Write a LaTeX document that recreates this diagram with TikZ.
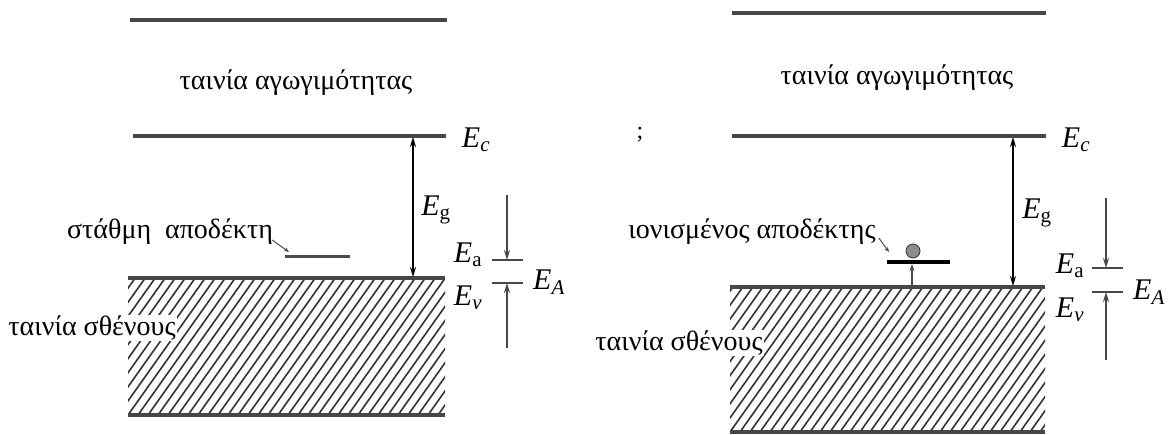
\documentclass[tikz,border=0pt]{standalone}
\usepackage{fontspec}
\setmainfont{Liberation Serif}
\usetikzlibrary{arrows.meta}

\tikzset{
  band/.style={draw=black!72, line width=3.4pt},
  gaparrow/.style={black, line width=2.4pt, {Stealth[length=10pt,width=6pt]}-{Stealth[length=10pt,width=6pt]}},
  eaarrow/.style={black!72, line width=1.8pt, -{Stealth[length=10pt,width=6pt]}},
  tickline/.style={black!72, line width=2pt},
  pointer/.style={black!70, line width=1pt, -{Stealth[length=5pt,width=4pt]}},
  lbl/.style={font=\fontsize{28}{32}\selectfont, inner sep=1pt},
  elbl/.style={font=\fontsize{30}{34}\selectfont\itshape, inner sep=0pt},
}

% hatched valence band: left, top, right, bottom
\newcommand{\hatchband}[4]{%
  \begin{scope}
    \clip (#1,#2) rectangle (#3,#4);
    \foreach \i in {0,10,...,440}
      \draw[black!80, line width=1.6pt] (#1+\i-110,#4) -- ++(110,-155);
  \end{scope}
  \draw[band] (#1,#2) -- (#3,#2);
  \draw[band] (#1,#4) -- (#3,#4);
}

\begin{document}
\begin{tikzpicture}[x=1pt,y=-1pt]
    \useasboundingbox (0,0) rectangle (1168,434);
    % Left diagram: neutral acceptor level.
        \draw[band] (130,20) -- (447,20);
        \draw[band] (133,136) -- (446,136);
        \hatchband{128}{278}{445}{415}
        \draw[black!70, line width=3pt] (285,256) -- (350,256);
        \coordinate (lc) at (413,137);
        \coordinate (lv) at (413,277);
        \draw[gaparrow] (lc) -- (lv);
    % Left E_A marker.
        \draw[tickline] (492,260) -- (523,260);
        \draw[tickline] (492,283) -- (523,283);
        \coordinate (lat) at (507,195);
        \coordinate (lab) at (507,348);
        \coordinate (lau) at (507,260);
        \coordinate (lad) at (507,283);
        \draw[eaarrow] (lat) -- (lau);
        \draw[eaarrow] (lab) -- (lad);
    % Below nodes are the labels.
        \node[lbl] (lcond) at (296,83) {ταινία αγωγιμότητας};
        \node[lbl] (lacc) at (170,232) {στάθμη\ \ αποδέκτη};
        \node[lbl, fill=white] (lval) at (92,328) {ταινία σθένους};
        \node[elbl] (lEc) at (476,140) {E\textsubscript{c}};
        \node[elbl] (lEg) at (436,210) {E\textsubscript{\upshape g}};
        \node[elbl] (lEa) at (468,255) {E\textsubscript{\upshape a}};
        \node[elbl] (lEv) at (468,298) {E\textsubscript{v}};
        \node[elbl] (lEA) at (549,282) {E\textsubscript{A}};
        \coordinate (lpt) at (289,252);
        \draw[pointer] (lacc.east) ++(-2,8) -- (lpt);

    % Right diagram: ionised acceptor.
        \draw[band] (732,13) -- (1046,13);
        \draw[band] (732,136) -- (1046,136);
        \hatchband{730}{287}{1045}{432}
        \draw[black, line width=4pt] (887,262) -- (950,262);
        \node[circle, draw=black!80, fill=black!45, minimum size=14pt, inner sep=0pt, line width=0.8pt] (ion) at (913,251) {};
        \coordinate (rup) at (912,287);
        \coordinate (rlev) at (912,264);
        \draw[black!70, line width=1.4pt, -{Stealth[length=7pt,width=5pt]}] (rup) -- (rlev);
        \coordinate (rc) at (1013,137);
        \coordinate (rv) at (1013,286);
        \draw[gaparrow] (rc) -- (rv);
    % Right E_A marker.
        \draw[tickline] (1092,268) -- (1123,268);
        \draw[tickline] (1092,292) -- (1123,292);
        \coordinate (rat) at (1106,198);
        \coordinate (rab) at (1106,360);
        \coordinate (rau) at (1106,268);
        \coordinate (rad) at (1106,292);
        \draw[eaarrow] (rat) -- (rau);
        \draw[eaarrow] (rab) -- (rad);
    % Below nodes are the labels.
        \node[lbl] (rcond) at (897,78) {ταινία αγωγιμότητας};
        \node[lbl] (racc) at (752,232) {ιονισμένος αποδέκτης};
        \node[lbl, fill=white] (rval) at (679,343) {ταινία σθένους};
        \node[elbl] (rEc) at (1076,140) {E\textsubscript{c}};
        \node[elbl] (rEg) at (1037,213) {E\textsubscript{\upshape g}};
        \node[elbl] (rEa) at (1070,266) {E\textsubscript{\upshape a}};
        \node[elbl] (rEv) at (1070,310) {E\textsubscript{v}};
        \node[elbl] (rEA) at (1149,292) {E\textsubscript{A}};
        \node[font=\fontsize{24}{28}\selectfont, inner sep=0pt] (semi) at (640,135) {;};
        \coordinate (rpt) at (889,252);
        \draw[pointer] (racc.east) ++(2,6) -- (rpt);
\end{tikzpicture}
\end{document}
